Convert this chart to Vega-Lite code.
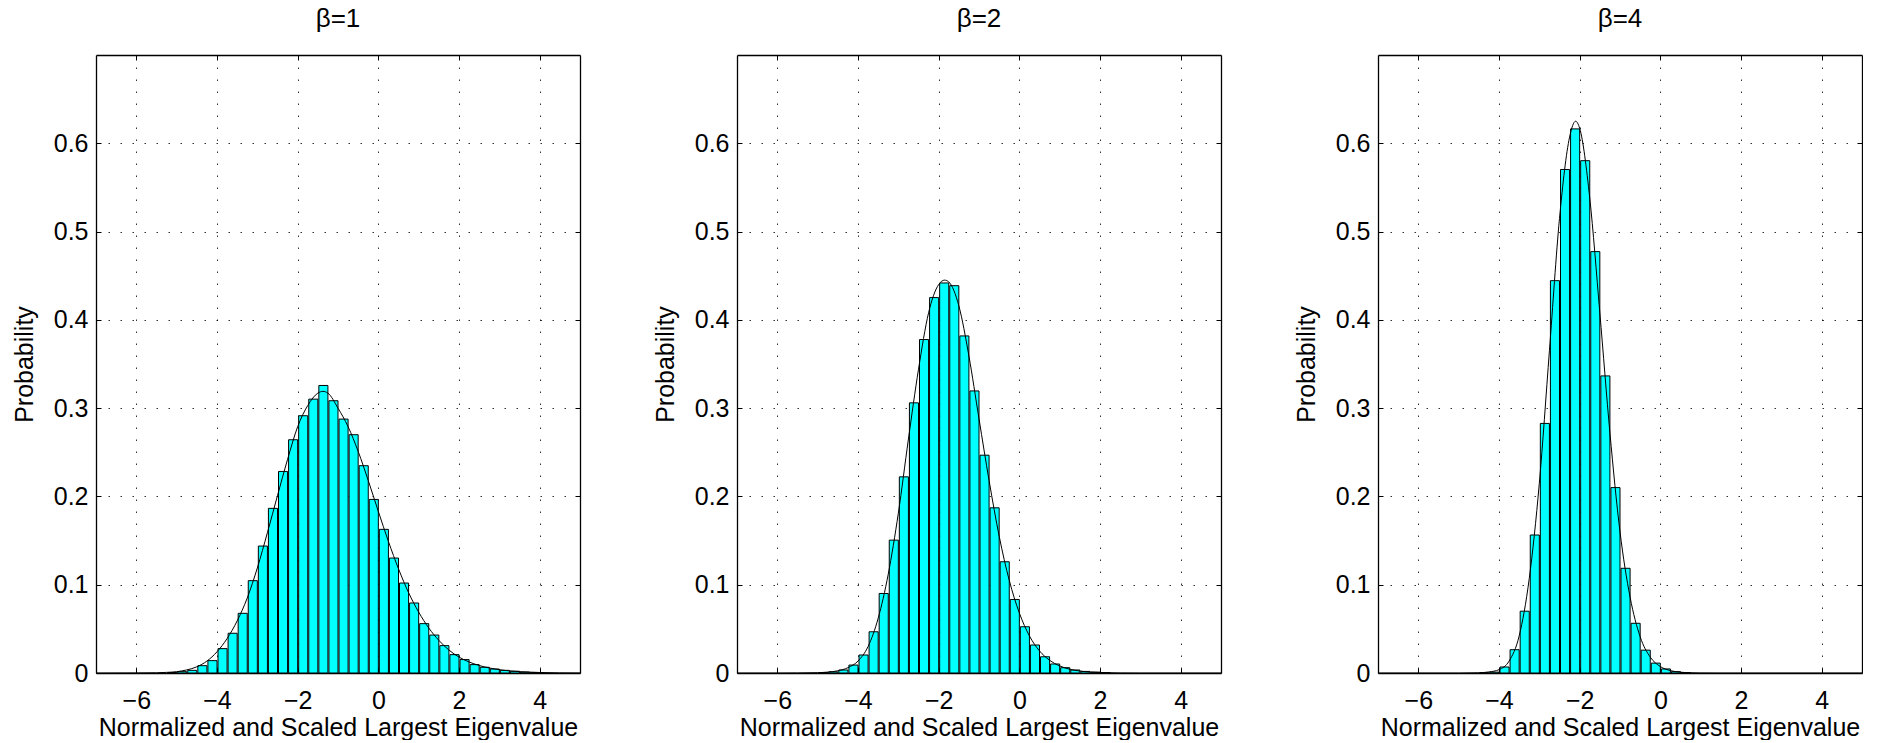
{
  "$schema": "https://vega.github.io/schema/vega-lite/v6.json",
  "padding": {"left": 12, "top": 5, "right": 0, "bottom": 0},
  "background": "white",
  "config": {
    "font": "Liberation Sans",
    "view": {"stroke": null},
    "concat": {"spacing": 72},
    "title": {"fontSize": 26, "fontWeight": "normal", "color": "black", "baseline": "alphabetic", "offset": 23, "anchor": "middle"},
    "axis": {
      "labelFont": "Liberation Sans", "titleFont": "Liberation Sans",
      "labelFontSize": 25, "titleFontSize": 25, "titleFontWeight": "normal",
      "labelColor": "black", "titleColor": "black",
      "domainColor": "black", "domainWidth": 1.3,
      "tickColor": "black", "tickWidth": 1, "tickSize": -5,
      "gridColor": "black", "gridOpacity": 0.8, "gridDash": [1.5, 10.5], "gridWidth": 1
    }
  },
  "datasets": {
    "bars1": [
      {"lo": -5.25, "hi": -5.0, "p": 0.0005}, {"lo": -5.0, "hi": -4.75, "p": 0.0015}, {"lo": -4.75, "hi": -4.5, "p": 0.003},
      {"lo": -4.5, "hi": -4.25, "p": 0.0083}, {"lo": -4.25, "hi": -4.0, "p": 0.014}, {"lo": -4.0, "hi": -3.75, "p": 0.0276},
      {"lo": -3.75, "hi": -3.5, "p": 0.045}, {"lo": -3.5, "hi": -3.25, "p": 0.0676}, {"lo": -3.25, "hi": -3.0, "p": 0.1046},
      {"lo": -3.0, "hi": -2.75, "p": 0.1438}, {"lo": -2.75, "hi": -2.5, "p": 0.1865}, {"lo": -2.5, "hi": -2.25, "p": 0.2283},
      {"lo": -2.25, "hi": -2.0, "p": 0.2642}, {"lo": -2.0, "hi": -1.75, "p": 0.2914}, {"lo": -1.75, "hi": -1.5, "p": 0.3102},
      {"lo": -1.5, "hi": -1.25, "p": 0.3257}, {"lo": -1.25, "hi": -1.0, "p": 0.3084}, {"lo": -1.0, "hi": -0.75, "p": 0.2876},
      {"lo": -0.75, "hi": -0.5, "p": 0.2699}, {"lo": -0.5, "hi": -0.25, "p": 0.2348}, {"lo": -0.25, "hi": 0.0, "p": 0.1966},
      {"lo": 0.0, "hi": 0.25, "p": 0.1627}, {"lo": 0.25, "hi": 0.5, "p": 0.1302}, {"lo": 0.5, "hi": 0.75, "p": 0.1019},
      {"lo": 0.75, "hi": 1.0, "p": 0.0793}, {"lo": 1.0, "hi": 1.25, "p": 0.0559}, {"lo": 1.25, "hi": 1.5, "p": 0.043},
      {"lo": 1.5, "hi": 1.75, "p": 0.031}, {"lo": 1.75, "hi": 2.0, "p": 0.0208}, {"lo": 2.0, "hi": 2.25, "p": 0.0152},
      {"lo": 2.25, "hi": 2.5, "p": 0.0095}, {"lo": 2.5, "hi": 2.75, "p": 0.0065}, {"lo": 2.75, "hi": 3.0, "p": 0.0045},
      {"lo": 3.0, "hi": 3.25, "p": 0.003}, {"lo": 3.25, "hi": 3.5, "p": 0.002}, {"lo": 3.5, "hi": 3.75, "p": 0.001},
      {"lo": 3.75, "hi": 4.0, "p": 0.0005}
    ],
    "curve1": [
      {"x": -7, "y": 0}, {"x": -6, "y": 0.0001}, {"x": -5.5, "y": 0.0003}, {"x": -5.25, "y": 0.0007}, {"x": -5.0, "y": 0.0015},
      {"x": -4.75, "y": 0.0035}, {"x": -4.5, "y": 0.007}, {"x": -4.25, "y": 0.0135}, {"x": -4.0, "y": 0.024},
      {"x": -3.75, "y": 0.039}, {"x": -3.5, "y": 0.059}, {"x": -3.25, "y": 0.085}, {"x": -3.0, "y": 0.119},
      {"x": -2.75, "y": 0.159}, {"x": -2.5, "y": 0.201}, {"x": -2.25, "y": 0.242}, {"x": -2.0, "y": 0.279},
      {"x": -1.75, "y": 0.303}, {"x": -1.5, "y": 0.317}, {"x": -1.375, "y": 0.319}, {"x": -1.25, "y": 0.317},
      {"x": -1.0, "y": 0.3}, {"x": -0.75, "y": 0.279}, {"x": -0.5, "y": 0.251}, {"x": -0.25, "y": 0.218},
      {"x": 0.0, "y": 0.183}, {"x": 0.25, "y": 0.149}, {"x": 0.5, "y": 0.118}, {"x": 0.75, "y": 0.091},
      {"x": 1.0, "y": 0.069}, {"x": 1.25, "y": 0.051}, {"x": 1.5, "y": 0.037}, {"x": 1.75, "y": 0.026},
      {"x": 2.0, "y": 0.018}, {"x": 2.25, "y": 0.0125}, {"x": 2.5, "y": 0.0085}, {"x": 2.75, "y": 0.0057},
      {"x": 3.0, "y": 0.0037}, {"x": 3.25, "y": 0.0024}, {"x": 3.5, "y": 0.0015}, {"x": 3.75, "y": 0.001},
      {"x": 4.0, "y": 0.0006}, {"x": 4.5, "y": 0.0002}, {"x": 5.0, "y": 0.0001}
    ],
    "bars2": [
      {"lo": -5.0, "hi": -4.75, "p": 0.0005}, {"lo": -4.75, "hi": -4.5, "p": 0.0013}, {"lo": -4.5, "hi": -4.25, "p": 0.0034},
      {"lo": -4.25, "hi": -4.0, "p": 0.009}, {"lo": -4.0, "hi": -3.75, "p": 0.0204}, {"lo": -3.75, "hi": -3.5, "p": 0.0467},
      {"lo": -3.5, "hi": -3.25, "p": 0.0901}, {"lo": -3.25, "hi": -3.0, "p": 0.1505}, {"lo": -3.0, "hi": -2.75, "p": 0.2222},
      {"lo": -2.75, "hi": -2.5, "p": 0.306}, {"lo": -2.5, "hi": -2.25, "p": 0.3777}, {"lo": -2.25, "hi": -2.0, "p": 0.4252},
      {"lo": -2.0, "hi": -1.75, "p": 0.4418}, {"lo": -1.75, "hi": -1.5, "p": 0.4387}, {"lo": -1.5, "hi": -1.25, "p": 0.3818},
      {"lo": -1.25, "hi": -1.0, "p": 0.3195}, {"lo": -1.0, "hi": -0.75, "p": 0.2467}, {"lo": -0.75, "hi": -0.5, "p": 0.1871},
      {"lo": -0.5, "hi": -0.25, "p": 0.126}, {"lo": -0.25, "hi": 0.0, "p": 0.0833}, {"lo": 0.0, "hi": 0.25, "p": 0.0524},
      {"lo": 0.25, "hi": 0.5, "p": 0.0317}, {"lo": 0.5, "hi": 0.75, "p": 0.0184}, {"lo": 0.75, "hi": 1.0, "p": 0.0102},
      {"lo": 1.0, "hi": 1.25, "p": 0.006}, {"lo": 1.25, "hi": 1.5, "p": 0.0034}, {"lo": 1.5, "hi": 1.75, "p": 0.0018},
      {"lo": 1.75, "hi": 2.0, "p": 0.001}, {"lo": 2.0, "hi": 2.25, "p": 0.0005}
    ],
    "curve2": [
      {"x": -7, "y": 0}, {"x": -6, "y": 0}, {"x": -5.5, "y": 0.0001}, {"x": -5.0, "y": 0.0004}, {"x": -4.75, "y": 0.001},
      {"x": -4.5, "y": 0.0025}, {"x": -4.25, "y": 0.006}, {"x": -4.0, "y": 0.0135}, {"x": -3.75, "y": 0.03},
      {"x": -3.5, "y": 0.062}, {"x": -3.25, "y": 0.112}, {"x": -3.0, "y": 0.181}, {"x": -2.75, "y": 0.265},
      {"x": -2.5, "y": 0.344}, {"x": -2.25, "y": 0.408}, {"x": -2.0, "y": 0.44}, {"x": -1.85, "y": 0.445},
      {"x": -1.75, "y": 0.443}, {"x": -1.5, "y": 0.416}, {"x": -1.25, "y": 0.359}, {"x": -1.0, "y": 0.288},
      {"x": -0.75, "y": 0.218}, {"x": -0.5, "y": 0.155}, {"x": -0.25, "y": 0.105}, {"x": 0.0, "y": 0.068},
      {"x": 0.25, "y": 0.042}, {"x": 0.5, "y": 0.025}, {"x": 0.75, "y": 0.0145}, {"x": 1.0, "y": 0.008},
      {"x": 1.25, "y": 0.0043}, {"x": 1.5, "y": 0.0022}, {"x": 1.75, "y": 0.0011}, {"x": 2.0, "y": 0.0005},
      {"x": 2.5, "y": 0.0001}, {"x": 3.0, "y": 0}, {"x": 5.0, "y": 0}
    ],
    "bars3": [
      {"lo": -4.5, "hi": -4.25, "p": 0.0003}, {"lo": -4.25, "hi": -4.0, "p": 0.001}, {"lo": -4.0, "hi": -3.75, "p": 0.0068},
      {"lo": -3.75, "hi": -3.5, "p": 0.0264}, {"lo": -3.5, "hi": -3.25, "p": 0.07}, {"lo": -3.25, "hi": -3.0, "p": 0.1563},
      {"lo": -3.0, "hi": -2.75, "p": 0.2827}, {"lo": -2.75, "hi": -2.5, "p": 0.4444}, {"lo": -2.5, "hi": -2.25, "p": 0.5703},
      {"lo": -2.25, "hi": -2.0, "p": 0.6163}, {"lo": -2.0, "hi": -1.75, "p": 0.5803}, {"lo": -1.75, "hi": -1.5, "p": 0.4773},
      {"lo": -1.5, "hi": -1.25, "p": 0.3365}, {"lo": -1.25, "hi": -1.0, "p": 0.21}, {"lo": -1.0, "hi": -0.75, "p": 0.1186},
      {"lo": -0.75, "hi": -0.5, "p": 0.0563}, {"lo": -0.5, "hi": -0.25, "p": 0.0259}, {"lo": -0.25, "hi": 0.0, "p": 0.0112},
      {"lo": 0.0, "hi": 0.25, "p": 0.0046}, {"lo": 0.25, "hi": 0.5, "p": 0.0015}, {"lo": 0.5, "hi": 0.75, "p": 0.0004}
    ],
    "curve3": [
      {"x": -7, "y": 0}, {"x": -5.0, "y": 0}, {"x": -4.5, "y": 0.0003}, {"x": -4.25, "y": 0.0012}, {"x": -4.0, "y": 0.0038},
      {"x": -3.75, "y": 0.0135}, {"x": -3.5, "y": 0.042}, {"x": -3.25, "y": 0.107}, {"x": -3.0, "y": 0.215},
      {"x": -2.75, "y": 0.365}, {"x": -2.5, "y": 0.515}, {"x": -2.25, "y": 0.607}, {"x": -2.1, "y": 0.625},
      {"x": -2.0, "y": 0.617}, {"x": -1.75, "y": 0.538}, {"x": -1.5, "y": 0.408}, {"x": -1.25, "y": 0.272},
      {"x": -1.0, "y": 0.16}, {"x": -0.75, "y": 0.086}, {"x": -0.5, "y": 0.041}, {"x": -0.25, "y": 0.018},
      {"x": 0.0, "y": 0.0073}, {"x": 0.25, "y": 0.0027}, {"x": 0.5, "y": 0.0009}, {"x": 0.75, "y": 0.0003},
      {"x": 1.0, "y": 0.0001}, {"x": 1.5, "y": 0}, {"x": 5.0, "y": 0}
    ]
  },
  "hconcat": [
    {
      "width": 484, "height": 618,
      "title": "β=1",
      "layer": [
        {
          "data": {"name": "bars1"},
          "mark": {"type": "bar", "fill": "#00ffff", "stroke": "black", "strokeWidth": 1, "binSpacing": 1},
          "encoding": {
            "x": {"field": "lo", "type": "quantitative", "bin": "binned", "scale": {"domain": [-7, 5], "nice": false},
                  "axis": {"orient": "bottom", "values": [-6, -4, -2, 0, 2, 4], "format": "~g", "grid": true, "labelPadding": 20, "title": "Normalized and Scaled Largest Eigenvalue", "titlePadding": 2}},
            "x2": {"field": "hi"},
            "y": {"field": "p", "type": "quantitative", "scale": {"domain": [0, 0.7], "nice": false},
                  "axis": {"orient": "left", "values": [0, 0.1, 0.2, 0.3, 0.4, 0.5, 0.6], "format": "~g", "grid": true, "labelPadding": 13, "title": "Probability", "titlePadding": 16}}
          }
        },
        {
          "data": {"name": "curve1"},
          "mark": {"type": "line", "color": "black", "strokeWidth": 1, "interpolate": "monotone", "clip": true},
          "encoding": {
            "x": {"field": "x", "type": "quantitative", "scale": {"domain": [-7, 5], "nice": false},
                  "axis": {"orient": "top", "values": [-6, -4, -2, 0, 2, 4], "labels": false, "grid": false, "title": null}},
            "y": {"field": "y", "type": "quantitative", "scale": {"domain": [0, 0.7], "nice": false},
                  "axis": {"orient": "right", "values": [0, 0.1, 0.2, 0.3, 0.4, 0.5, 0.6], "labels": false, "grid": false, "title": null}}
          }
        }
      ],
      "resolve": {"axis": {"x": "independent", "y": "independent"}}
    },
    {
      "width": 484, "height": 618,
      "title": "β=2",
      "layer": [
        {
          "data": {"name": "bars2"},
          "mark": {"type": "bar", "fill": "#00ffff", "stroke": "black", "strokeWidth": 1, "binSpacing": 1},
          "encoding": {
            "x": {"field": "lo", "type": "quantitative", "bin": "binned", "scale": {"domain": [-7, 5], "nice": false},
                  "axis": {"orient": "bottom", "values": [-6, -4, -2, 0, 2, 4], "format": "~g", "grid": true, "labelPadding": 20, "title": "Normalized and Scaled Largest Eigenvalue", "titlePadding": 2}},
            "x2": {"field": "hi"},
            "y": {"field": "p", "type": "quantitative", "scale": {"domain": [0, 0.7], "nice": false},
                  "axis": {"orient": "left", "values": [0, 0.1, 0.2, 0.3, 0.4, 0.5, 0.6], "format": "~g", "grid": true, "labelPadding": 13, "title": "Probability", "titlePadding": 16}}
          }
        },
        {
          "data": {"name": "curve2"},
          "mark": {"type": "line", "color": "black", "strokeWidth": 1, "interpolate": "monotone", "clip": true},
          "encoding": {
            "x": {"field": "x", "type": "quantitative", "scale": {"domain": [-7, 5], "nice": false},
                  "axis": {"orient": "top", "values": [-6, -4, -2, 0, 2, 4], "labels": false, "grid": false, "title": null}},
            "y": {"field": "y", "type": "quantitative", "scale": {"domain": [0, 0.7], "nice": false},
                  "axis": {"orient": "right", "values": [0, 0.1, 0.2, 0.3, 0.4, 0.5, 0.6], "labels": false, "grid": false, "title": null}}
          }
        }
      ],
      "resolve": {"axis": {"x": "independent", "y": "independent"}}
    },
    {
      "width": 484, "height": 618,
      "title": "β=4",
      "layer": [
        {
          "data": {"name": "bars3"},
          "mark": {"type": "bar", "fill": "#00ffff", "stroke": "black", "strokeWidth": 1, "binSpacing": 1},
          "encoding": {
            "x": {"field": "lo", "type": "quantitative", "bin": "binned", "scale": {"domain": [-7, 5], "nice": false},
                  "axis": {"orient": "bottom", "values": [-6, -4, -2, 0, 2, 4], "format": "~g", "grid": true, "labelPadding": 20, "title": "Normalized and Scaled Largest Eigenvalue", "titlePadding": 2}},
            "x2": {"field": "hi"},
            "y": {"field": "p", "type": "quantitative", "scale": {"domain": [0, 0.7], "nice": false},
                  "axis": {"orient": "left", "values": [0, 0.1, 0.2, 0.3, 0.4, 0.5, 0.6], "format": "~g", "grid": true, "labelPadding": 13, "title": "Probability", "titlePadding": 16}}
          }
        },
        {
          "data": {"name": "curve3"},
          "mark": {"type": "line", "color": "black", "strokeWidth": 1, "interpolate": "monotone", "clip": true},
          "encoding": {
            "x": {"field": "x", "type": "quantitative", "scale": {"domain": [-7, 5], "nice": false},
                  "axis": {"orient": "top", "values": [-6, -4, -2, 0, 2, 4], "labels": false, "grid": false, "title": null}},
            "y": {"field": "y", "type": "quantitative", "scale": {"domain": [0, 0.7], "nice": false},
                  "axis": {"orient": "right", "values": [0, 0.1, 0.2, 0.3, 0.4, 0.5, 0.6], "labels": false, "grid": false, "title": null}}
          }
        }
      ],
      "resolve": {"axis": {"x": "independent", "y": "independent"}}
    }
  ]
}
